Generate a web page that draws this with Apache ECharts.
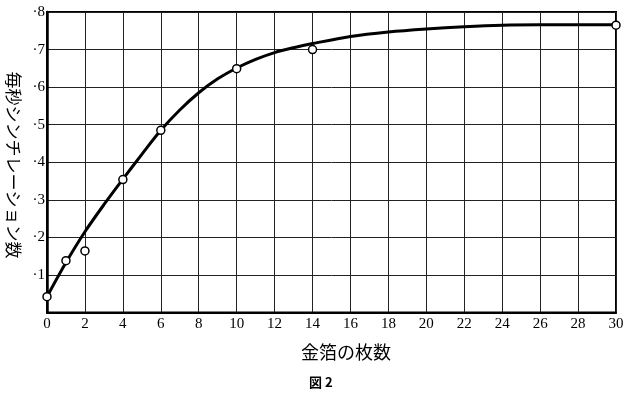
<!DOCTYPE html>
<html>
<head>
<meta charset="utf-8">
<script src="https://cdn.jsdelivr.net/npm/echarts@6/dist/echarts.min.js"></script>
<style>
html,body{margin:0;padding:0;background:#fff;}
#chart{width:628px;height:394px;}
</style>
</head>
<body>
<div id="chart"></div>
<script>
// measured points (number of gold foils, scintillations per second)
const foilCounts = [0, 1, 2, 4, 6, 10, 14, 30];
const scintRates = [0.042, 0.138, 0.164, 0.354, 0.485, 0.649, 0.700, 0.765];
// fitted smooth curve
const curveX = [0, 1, 2, 3, 4, 5, 6, 7, 8, 9, 10, 11, 12, 13, 14, 16, 18, 20, 22, 24, 26, 28, 30];
const curveY = [0.042, 0.133, 0.215, 0.287, 0.355, 0.421, 0.485, 0.539, 0.585, 0.622, 0.651, 0.674, 0.692, 0.705, 0.716, 0.735, 0.747, 0.755, 0.761, 0.765, 0.766, 0.766, 0.766];
// tick labels
const xTickLabels = ['0','2','4','6','8','10','12','14','16','18','20','22','24','26','28','30'];
const yTickLabels = ['', '·1', '·2', '·3', '·4', '·5', '·6', '·7', '·8'];
const xTitle = '金箔の枚数';
const yTitle = '毎秒シンチレーション数';
const figCaption = '図 2';

const chart = echarts.init(document.getElementById('chart'), null, {renderer: 'canvas'});
const serif = '"Liberation Serif", "DejaVu Serif", serif';
const cjk = '"Noto Sans CJK JP", sans-serif';

chart.setOption({
  backgroundColor: '#fff',
  animation: false,
  grid: {left: 47, right: 12, top: 12, bottom: 81.5, show: true, borderColor: '#000', borderWidth: 2, backgroundColor: 'transparent'},
  xAxis: {
    type: 'value', min: 0, max: 30, interval: 2,
    axisLine: {show: true, lineStyle: {color: '#000', width: 2}},
    axisTick: {show: false},
    axisLabel: {
      color: '#000', fontFamily: serif, fontSize: 15, margin: 4,
      formatter: (v) => xTickLabels[Math.round(v / 2)]
    },
    splitLine: {show: true, lineStyle: {color: '#222', width: 1}}
  },
  yAxis: {
    type: 'value', min: 0, max: 0.8, interval: 0.1,
    axisLine: {show: true, lineStyle: {color: '#000', width: 2.5}},
    axisTick: {show: false},
    axisLabel: {
      color: '#000', fontFamily: serif, fontSize: 15, margin: 2,
      formatter: (v) => yTickLabels[Math.round(v * 10)]
    },
    splitLine: {show: true, lineStyle: {color: '#222', width: 1}}
  },
  graphic: [
    {type: 'text', x: 301, y: 352, style: {text: xTitle, font: '18px ' + cjk, fill: '#000', textVerticalAlign: 'middle'}},
    {type: 'text', x: 309, y: 382, style: {text: figCaption, font: 'bold 13px ' + cjk, fill: '#000', textVerticalAlign: 'middle'}},
    {type: 'text', x: 13, y: 165, rotation: -Math.PI / 2,
     style: {text: yTitle, font: '17px ' + cjk, fill: '#000', textAlign: 'center', textVerticalAlign: 'middle'}}
  ],
  series: [
    {
      type: 'line', data: curveX.map((x, i) => [x, curveY[i]]),
      smooth: 0.3, showSymbol: false, symbol: 'none',
      lineStyle: {color: '#000', width: 3}, z: 3
    },
    {
      type: 'scatter', data: foilCounts.map((x, i) => [x, scintRates[i]]),
      symbol: 'circle', symbolSize: 8,
      itemStyle: {color: '#fff', borderColor: '#000', borderWidth: 1.5, opacity: 1}, z: 5
    }
  ]
});
</script>
</body>
</html>
